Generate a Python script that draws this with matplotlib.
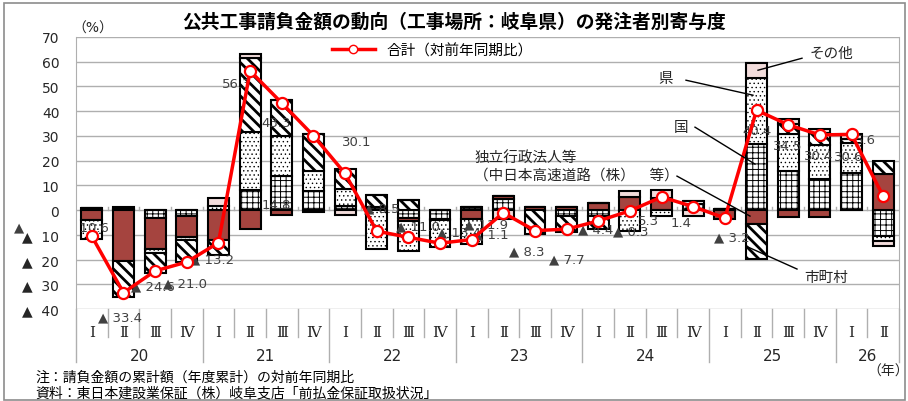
import numpy as np
import matplotlib
matplotlib.use('Agg')
import matplotlib.pyplot as plt
from matplotlib.lines import Line2D
from matplotlib.patches import Rectangle

plt.rcParams['font.family'] = ['DejaVu Sans', 'Noto Sans CJK JP']

# quarters 20-I .. 26-II
quarters = ['Ⅰ', 'Ⅱ', 'Ⅲ', 'Ⅳ'] * 6 + ['Ⅰ', 'Ⅱ']
years = ['20', '21', '22', '23', '24', '25', '26']

# contribution by ordering party (percentage points)
kuni      = [0.8, 0.5, -3.0, -2.3, 0, 8.2, 13.9, 7.8, 1.8, 1.1, -3.4, -3.6, 1.1,
             4.4, 0, -2.3, -2.3, 0, 0, 2.6, 0.4, 26.7, 15.9, 12.5, 15.2, -10.4]
dokuho    = [-4.0, -20.5, -12.8, -8.5, -12.1, -7.7, -2.0, -0.6, 0, 0, -0.9, -0.4, -3.6,
             1.1, 1.1, 1.1, 2.7, 5.1, 4.7, 0, -3.6, -5.7, -2.7, -2.6, 0, 14.5]
ken       = [-7.8, 0, -1.7, -1.3, 1.5, 23.2, 16.1, 8.1, 6.7, -15.8, -12.1, -11.1, -10.1,
             0, 0, 0, 0, -8.4, -2.3, 1.2, 0, 26.9, 14.8, 14.0, 12.1, -2.0]
shichoson = [0, -14.8, -8.1, -9.0, -5.9, 30.0, 14.6, 14.8, 8.1, 5.0, 4.0, 0, 0,
             0, -9.7, -6.7, -5.4, 0, 0, 0, 0, -14.1, 4.3, 4.7, 1.4, 5.2]
sonota    = [0, 0.8, 0, 0, 3.2, 1.9, 0, 0, -2.0, 0, 0, 0, 0,
             -3.6, 0, 0, 0, 2.7, 3.5, -2.4, 0, 5.7, 1.8, 1.6, 1.9, -2.3]
# total, year-on-year change (%)
total = [-10.6, -33.4, -24.6, -21.0, -13.2, 56.3, 43.3, 30.1, 14.8, -8.5, -11.0, -13.4, -11.9,
         -1.1, -8.3, -7.7, -4.4, -0.3, 5.3, 1.4, -3.2, 40.4, 34.5, 30.4, 30.6, 5.6]

# label offsets in pixels (dx, dy) from the point, as placed in the original
lab_off = [(-78, 9), (-25, -24), (-24, -15), (-24, -21), (-28, -16), (-28, -13), (-20, -19),
           (29, -6), (-83, -31), (-13, 23), (-12, 11), (-3, 11), (-8, 16), (-30, -21),
           (-26, -20), (-18, -30), (-20, -8), (-17, -20), (-24, -24), (-23, -16), (-11, -19),
           (-14, -20), (-15, -21), (-16, -21), (-18, -22), (-28, 57)]

W, H = 908, 402
fig = plt.figure(figsize=(W / 100, H / 100), dpi=100)
ax = fig.add_axes([76 / W, 92 / H, 823 / W, 272 / H])

n = len(total)
x = np.arange(n) + 0.5
brown = '#A5443F'
pink = '#F2DCDB'
series = [
    (kuni, 'white', '+++', 0.7),
    (dokuho, brown, None, 1.0),
    (ken, 'white', '....', 0.5),
    (shichoson, 'white', '\\\\\\', 2.0),
    (sonota, pink, None, 1.0),
]
pos = np.zeros(n)
neg = np.zeros(n)
for vals, fc, hatch, hlw in series:
    v = np.array(vals, dtype=float)
    bottom = np.where(v >= 0, pos, neg)
    with plt.rc_context({'hatch.linewidth': hlw}):
        bars = ax.bar(x, v, 0.66, bottom=bottom, color=fc, edgecolor='black',
                      linewidth=1.5, hatch=hatch, zorder=2)
    for b in bars:
        if hasattr(b, 'set_hatch_linewidth'):
            b.set_hatch_linewidth(hlw)
    pos = pos + np.where(v > 0, v, 0)
    neg = neg + np.where(v < 0, v, 0)

ax.plot(x, total, color='#FF0000', lw=2.5, marker='o', ms=8, mfc='white',
        mec='#FF0000', mew=1.6, zorder=4)

for i, (xi, v) in enumerate(zip(x, total)):
    if i == 0:
        s = '▲' + ' ' * 13 + '10.6'
    elif v < 0:
        s = '▲ %.1f' % abs(v)
    else:
        s = '%.1f' % v
    dx, dy = lab_off[i]
    ax.annotate(s, (xi, v), xytext=(dx * 0.72, dy * 0.72), textcoords='offset points',
                ha='left', va='center', fontsize=9.5, color='#404040', zorder=3,
                annotation_clip=False)

ax.set_xlim(0, n)
ax.set_ylim(-40, 70)
yt = np.arange(-40, 71, 10)
ax.set_yticks(yt)
ax.set_yticklabels([('▲  %d' % -t) if t < 0 else str(t) for t in yt], fontsize=10, color='#262626')
ax.tick_params(axis='y', length=0, pad=12)
ax.set_xticks([])
ax.grid(axis='y', color='#AFAFAF', lw=1)
ax.set_axisbelow(True)
for s in ['top', 'bottom']:
    ax.spines[s].set_visible(False)
for s in ['left', 'right']:
    ax.spines[s].set_color('#AFAFAF')

# small tick marks on the zero line
for b in range(1, n):
    ax.plot([b, b], [0, 1.1], color='#AFAFAF', lw=1, zorder=1)

# category axis (quarters / years)
tr = ax.get_xaxis_transform()
for b in range(0, n + 1):
    bottom_y = -0.195 if (b % 4 == 0 or b == n) else -0.103
    ax.plot([b, b], [0, bottom_y], transform=tr, color='#AFAFAF', lw=1, clip_on=False)
for i, q in enumerate(quarters):
    ax.text(i + 0.5, -0.085, q, transform=tr, ha='center', va='center', fontsize=11,
            family=['DejaVu Serif', 'Noto Sans CJK JP'], color='#262626')
for k, yr in enumerate(years):
    span = 4 if k < 6 else 2
    ax.text(4 * k + span / 2, -0.17, yr, transform=tr, ha='center', va='center',
            fontsize=11, color='#262626')

# legend
h = Line2D([], [], color='#FF0000', lw=2.5, marker='o', ms=6, mfc='white', mec='#FF0000')
ax.legend([h], ['合計（対前年同期比）'], loc='center', bbox_to_anchor=(0.433, 0.952),
          frameon=False, fontsize=10.5, handlelength=3)

# leader-line annotations
def px(xp, yp):
    return ((xp - 76) / 823 * n, (211 - yp) / 2.475)

notes = [
    ('その他', (810, 53), (802, 59), (758, 71)),
    ('県', (658, 78), (686, 81), (753, 96)),
    ('国', (674, 127), (695, 128), (755, 165)),
    ('市町村', (804, 277), (797, 270), (748, 248)),
]
for txt, tp, a, b in notes:
    ax.text(*px(*tp), txt, ha='left', va='center', fontsize=10.5, color='#262626', zorder=5)
    ax.plot(*zip(px(*a), px(*b)), color='black', lw=1, zorder=5)
ax.text(*px(474, 158), '独立行政法人等', ha='left', va='center', fontsize=10.5, color='#262626')
ax.text(*px(474, 176), '（中日本高速道路（株）　等）', ha='left', va='center', fontsize=10.5,
        color='#262626')
ax.plot(*zip(px(677, 177), px(750, 217)), color='black', lw=1, zorder=5)

fig.text(0.5, 1 - 22 / H, '公共工事請負金額の動向（工事場所：岐阜県）の発注者別寄与度',
         ha='center', va='center', fontsize=13.5, fontweight='bold')
fig.text(93 / W, 1 - 29 / H, '（%）', ha='center', va='center', fontsize=10, color='#262626')
fig.text(888 / W, 1 - 372 / H, '（年）', ha='center', va='center', fontsize=10, color='#262626')
fig.text(35 / W, 1 - 378 / H, '注：請負金額の累計額（年度累計）の対前年同期比', ha='left',
         va='center', fontsize=10)
fig.text(35 / W, 1 - 394 / H, '資料：東日本建設業保証（株）岐阜支店「前払金保証取扱状況」', ha='left',
         va='center', fontsize=10)
fig.patches.append(Rectangle((4 / W, 1 / H), 901 / W, 397 / H, transform=fig.transFigure,
                             fill=False, ec='#8C8C8C', lw=1.2))

fig.savefig('out.png', dpi=100)
